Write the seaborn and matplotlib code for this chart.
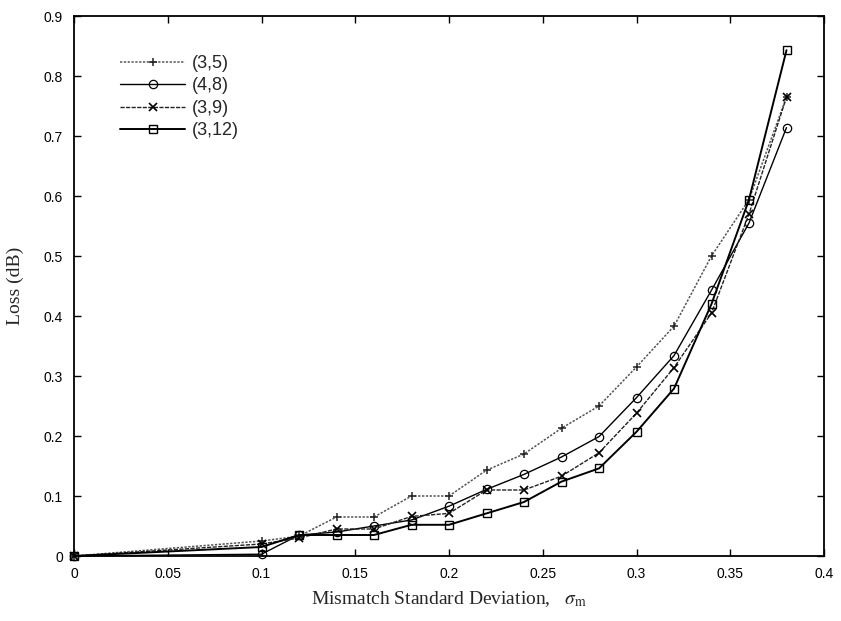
import matplotlib
matplotlib.use("Agg")
import matplotlib.pyplot as plt
import seaborn as sns
import numpy as np

sigma = [0, 0.10, 0.12, 0.14, 0.16, 0.18, 0.20, 0.22, 0.24, 0.26, 0.28, 0.30, 0.32, 0.34, 0.36, 0.38]
loss_3_5 = [0, 0.025, 0.033, 0.065, 0.065, 0.100, 0.100, 0.143, 0.170, 0.213, 0.250, 0.315, 0.383, 0.500, 0.594, 0.765]
loss_4_8 = [0, 0.003, 0.035, 0.040, 0.050, 0.060, 0.083, 0.111, 0.136, 0.165, 0.199, 0.264, 0.334, 0.443, 0.555, 0.714]
loss_3_9 = [0, 0.020, 0.030, 0.045, 0.045, 0.066, 0.071, 0.110, 0.110, 0.133, 0.172, 0.238, 0.314, 0.405, 0.570, 0.765]
loss_3_12 = [0, 0.015, 0.035, 0.035, 0.035, 0.052, 0.052, 0.071, 0.090, 0.124, 0.146, 0.207, 0.279, 0.420, 0.594, 0.843]
labels = ["(3,5)", "(4,8)", "(3,9)", "(3,12)"]
xticks = [0, 0.05, 0.1, 0.15, 0.2, 0.25, 0.3, 0.35, 0.4]
xticklabels = ["0", "0.05", "0.1", "0.15", "0.2", "0.25", "0.3", "0.35", "0.4"]
yticks = [0, 0.1, 0.2, 0.3, 0.4, 0.5, 0.6, 0.7, 0.8, 0.9]
yticklabels = ["0", "0.1", "0.2", "0.3", "0.4", "0.5", "0.6", "0.7", "0.8", "0.9"]

sns.set_theme(style="white")
plt.rcParams["font.family"] = ["Liberation Sans", "DejaVu Sans"]
plt.rcParams["mathtext.fontset"] = "stix"

fig = plt.figure(figsize=(8.41, 6.21), dpi=100)
ax = fig.add_axes([74 / 841, 1 - 556 / 621, 750 / 841, 540 / 621])

styles = [
    dict(color="#555555", linestyle=(0, (1.5, 1)), linewidth=1.1, marker="+", markersize=6,
         mec="#222222", mew=1.1),
    dict(color="black", linestyle="-", linewidth=1.0, marker="o", markersize=6,
         mfc="none", mec="black", mew=0.9),
    dict(color="#222222", linestyle=(0, (3, 1)), linewidth=1.0, marker="x", markersize=6,
         mec="black", mew=1.2),
    dict(color="black", linestyle="-", linewidth=1.4, marker="s", markersize=6,
         mfc="none", mec="black", mew=1.0),
]
series = [loss_3_5, loss_4_8, loss_3_9, loss_3_12]
for vals, lab, st in zip(series, labels, styles):
    sns.lineplot(x=sigma, y=vals, ax=ax, label=lab, clip_on=False, **st)

ax.set_xlim(0, 0.4)
ax.set_ylim(0, 0.9)
ax.set_xticks(xticks)
ax.set_xticklabels(xticklabels)
ax.set_yticks(yticks)
ax.set_yticklabels(yticklabels)
ax.tick_params(direction="in", length=5, width=1, top=True, right=True,
               bottom=True, left=True, labelsize=10, colors="black", pad=8)
for s in ax.spines.values():
    s.set_color("black")
    s.set_linewidth(1.3)

ax.set_xlabel(r"Mismatch Standard Deviation,   $\sigma_{\mathrm{m}}$",
              fontfamily="Liberation Serif", fontsize=14, labelpad=6)
ax.set_ylabel("Loss (dB)", fontfamily="Liberation Serif", fontsize=14, labelpad=14)

leg = ax.legend(loc="upper left", bbox_to_anchor=(120 / 841, 1 - 55 / 621),
                bbox_transform=fig.transFigure, frameon=False, fontsize=13,
                handlelength=3.6, handletextpad=0.4, labelspacing=0.3,
                borderpad=0, borderaxespad=0)

fig.savefig("out.png", dpi=100)
